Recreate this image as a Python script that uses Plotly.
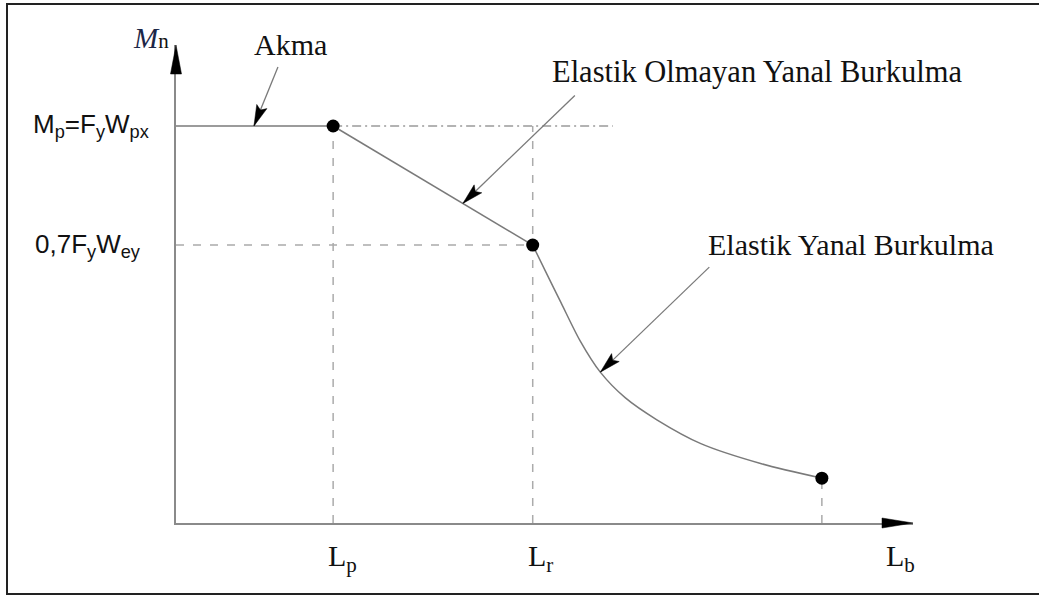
import math
import plotly.graph_objects as go

W, H = 1039, 595

# Unbraced length Lb (normalised by Lp) and nominal moment Mn (normalised by Mp)
Lp = 1.0
Lr = 2.27
Lb_end = 4.11
Mp = 1.0
Mr = 0.70

yield_Lb = [0.0, Lp]
yield_Mn = [Mp, Mp]
inelastic_Lb = [Lp, Lr]
inelastic_Mn = [Mp, Mr]
elastic_Lb = [2.27, 2.35, 2.45, 2.57, 2.70, 2.86, 3.06, 3.34, 3.72, 4.11]
elastic_Mn = [0.70, 0.635, 0.555, 0.46, 0.38, 0.315, 0.26, 0.20, 0.15, 0.113]

key_Lb = [Lp, Lr, Lb_end]
key_Mn = [Mp, Mr, elastic_Mn[-1]]

x_labels = ["L<sub>p</sub>", "L<sub>r</sub>", "L<sub>b</sub>"]
y_labels = ["M<sub>p</sub>=F<sub>y</sub>W<sub>px</sub>", "0,7F<sub>y</sub>W<sub>ey</sub>"]
region_labels = ["Akma", "Elastik Olmayan Yanal Burkulma", "Elastik Yanal Burkulma"]

x_max = 4.69
y_max = 1.204
dashdot_end = 2.78

SERIF = "Liberation Serif, Times New Roman, serif"
SANS = "Liberation Sans, Arial, sans-serif"
CURVE = "#7a7a7a"
GUIDE = "#ababab"
AXIS = "#8a8a8a"

# plot-area edges in pixels
X0, X1, Y0, Y1 = 176, 913, 523, 45


def px(x):
    return x / W


def py(y):
    return 1 - y / H


fig = go.Figure()

# dashed guide lines
guide = dict(color=GUIDE, width=1.5, dash="8px,9px")
for xv, top in [(Lp, Mp), (Lr, Mp), (Lb_end, key_Mn[2])]:
    fig.add_trace(go.Scatter(x=[xv, xv], y=[0, top], mode="lines", line=guide,
                             hoverinfo="skip", showlegend=False))
fig.add_trace(go.Scatter(x=[0, Lr], y=[Mr, Mr], mode="lines", line=guide,
                         hoverinfo="skip", showlegend=False))
fig.add_trace(go.Scatter(x=[Lp, dashdot_end], y=[Mp, Mp], mode="lines",
                         line=dict(color="#9a9a9a", width=1.3, dash="9px,4px,2px,4px"),
                         hoverinfo="skip", showlegend=False))

# capacity curve
line = dict(color=CURVE, width=1.5)
fig.add_trace(go.Scatter(x=yield_Lb, y=yield_Mn, mode="lines", line=line,
                         hoverinfo="skip", showlegend=False))
fig.add_trace(go.Scatter(x=inelastic_Lb, y=inelastic_Mn, mode="lines", line=line,
                         hoverinfo="skip", showlegend=False))
fig.add_trace(go.Scatter(x=elastic_Lb, y=elastic_Mn, mode="lines",
                         line=dict(color=CURVE, width=1.5, shape="spline", smoothing=0.8),
                         hoverinfo="skip", showlegend=False))
fig.add_trace(go.Scatter(x=key_Lb, y=key_Mn, mode="markers",
                         marker=dict(color="black", size=13),
                         hoverinfo="skip", showlegend=False))

shapes = []


def head_path(dx, dy, length, half):
    # dx, dy: direction from tip back toward the tail, pixel units (y up)
    n = math.hypot(dx, dy)
    ux, uy = dx / n, dy / n
    vx, vy = -uy, ux
    bx, by = ux * length, uy * length
    nx, ny = ux * length * 0.82, uy * length * 0.82
    return (f"M0,0 L{bx + vx * half:.2f},{by + vy * half:.2f} "
            f"L{nx:.2f},{ny:.2f} L{bx - vx * half:.2f},{by - vy * half:.2f} Z")


def pointer(x, y, ox, oy):
    # ox, oy: screen offset of the tail from the tip (pixels, y down)
    shapes.append(dict(type="path", xref="x", yref="y", xsizemode="pixel",
                       ysizemode="pixel", xanchor=x, yanchor=y,
                       path=f"M0,0 L{ox},{-oy}", line=dict(color=CURVE, width=1.3)))
    shapes.append(dict(type="path", xref="x", yref="y", xsizemode="pixel",
                       ysizemode="pixel", xanchor=x, yanchor=y,
                       path=head_path(ox, -oy, 21, 5.5), fillcolor="black",
                       line=dict(color="black", width=0.5)))


t = 0.65
pointer(0.496, Mp, 24, -59)
pointer(Lp + t * (Lr - Lp), Mp + t * (Mr - Mp), 112, -108)
pointer(elastic_Lb[4], elastic_Mn[4], 109, -105)

# axis arrow heads (paper-referenced so they are not clipped by the plot area)
shapes.append(dict(type="path", xref="paper", yref="paper", xsizemode="pixel",
                   ysizemode="pixel", xanchor=px(X0), yanchor=py(Y1),
                   path="M0,0 L-5.5,-29 L5.5,-29 Z",
                   fillcolor="black", line=dict(color="black", width=0.5)))
shapes.append(dict(type="path", xref="paper", yref="paper", xsizemode="pixel",
                   ysizemode="pixel", xanchor=px(X1), yanchor=py(Y0),
                   path="M0,0 L-31,5 L-31,-5 Z",
                   fillcolor="black", line=dict(color="black", width=0.5)))

# frame
shapes.append(dict(type="rect", xref="paper", yref="paper", x0=px(7), x1=px(1080),
                   y0=py(594), y1=py(4), line=dict(color="#222222", width=2)))

ann = []
serif = dict(family=SERIF, size=30, color="#111111")
sans = dict(family=SANS, size=26, color="#111111")

ann.append(dict(x=px(171), y=py(38), xref="paper", yref="paper", xanchor="right",
                yanchor="middle", showarrow=False,
                text="<i><span style='color:#1c2748'>M</span></i>"
                     "<span style='font-size:21px'>n</span>",
                font=dict(family=SERIF, size=29, color="#111111")))
ann.append(dict(x=px(290), y=py(45), xref="paper", yref="paper", xanchor="center",
                yanchor="middle", showarrow=False, text=region_labels[0], font=serif))
ann.append(dict(x=px(757), y=py(72), xref="paper", yref="paper", xanchor="center",
                yanchor="middle", showarrow=False, text=region_labels[1],
                font=dict(family=SERIF, size=30.5, color="#111111")))
ann.append(dict(x=px(851), y=py(244), xref="paper", yref="paper", xanchor="center",
                yanchor="middle", showarrow=False, text=region_labels[2], font=serif))

for yv, lab, right in [(Mp, y_labels[0], 151), (Mr, y_labels[1], 143)]:
    ann.append(dict(x=px(right), y=yv, xref="paper", yref="y", xanchor="right",
                    yanchor="middle", showarrow=False, text=lab, font=sans))

for xv, lab in zip([Lp, Lr], x_labels[:2]):
    ann.append(dict(x=xv, y=py(558), xref="x", yref="paper", xanchor="left",
                    yanchor="middle", xshift=-7, showarrow=False, text=lab, font=serif))
ann.append(dict(x=px(884), y=py(558), xref="paper", yref="paper", xanchor="left",
                yanchor="middle", showarrow=False, text=x_labels[2], font=serif))

fig.update_layout(
    width=W, height=H,
    margin=dict(l=0, r=0, t=0, b=0),
    paper_bgcolor="white", plot_bgcolor="white",
    xaxis=dict(domain=[px(X0), px(X1)], range=[0, x_max], showgrid=False,
               zeroline=False, showticklabels=False, ticks="",
               showline=True, linecolor=AXIS, linewidth=2),
    yaxis=dict(domain=[py(Y0), py(Y1)], range=[0, y_max], showgrid=False,
               zeroline=False, showticklabels=False, ticks="",
               showline=True, linecolor=AXIS, linewidth=2),
    shapes=shapes,
    annotations=ann,
)

fig.write_html("out.html")
